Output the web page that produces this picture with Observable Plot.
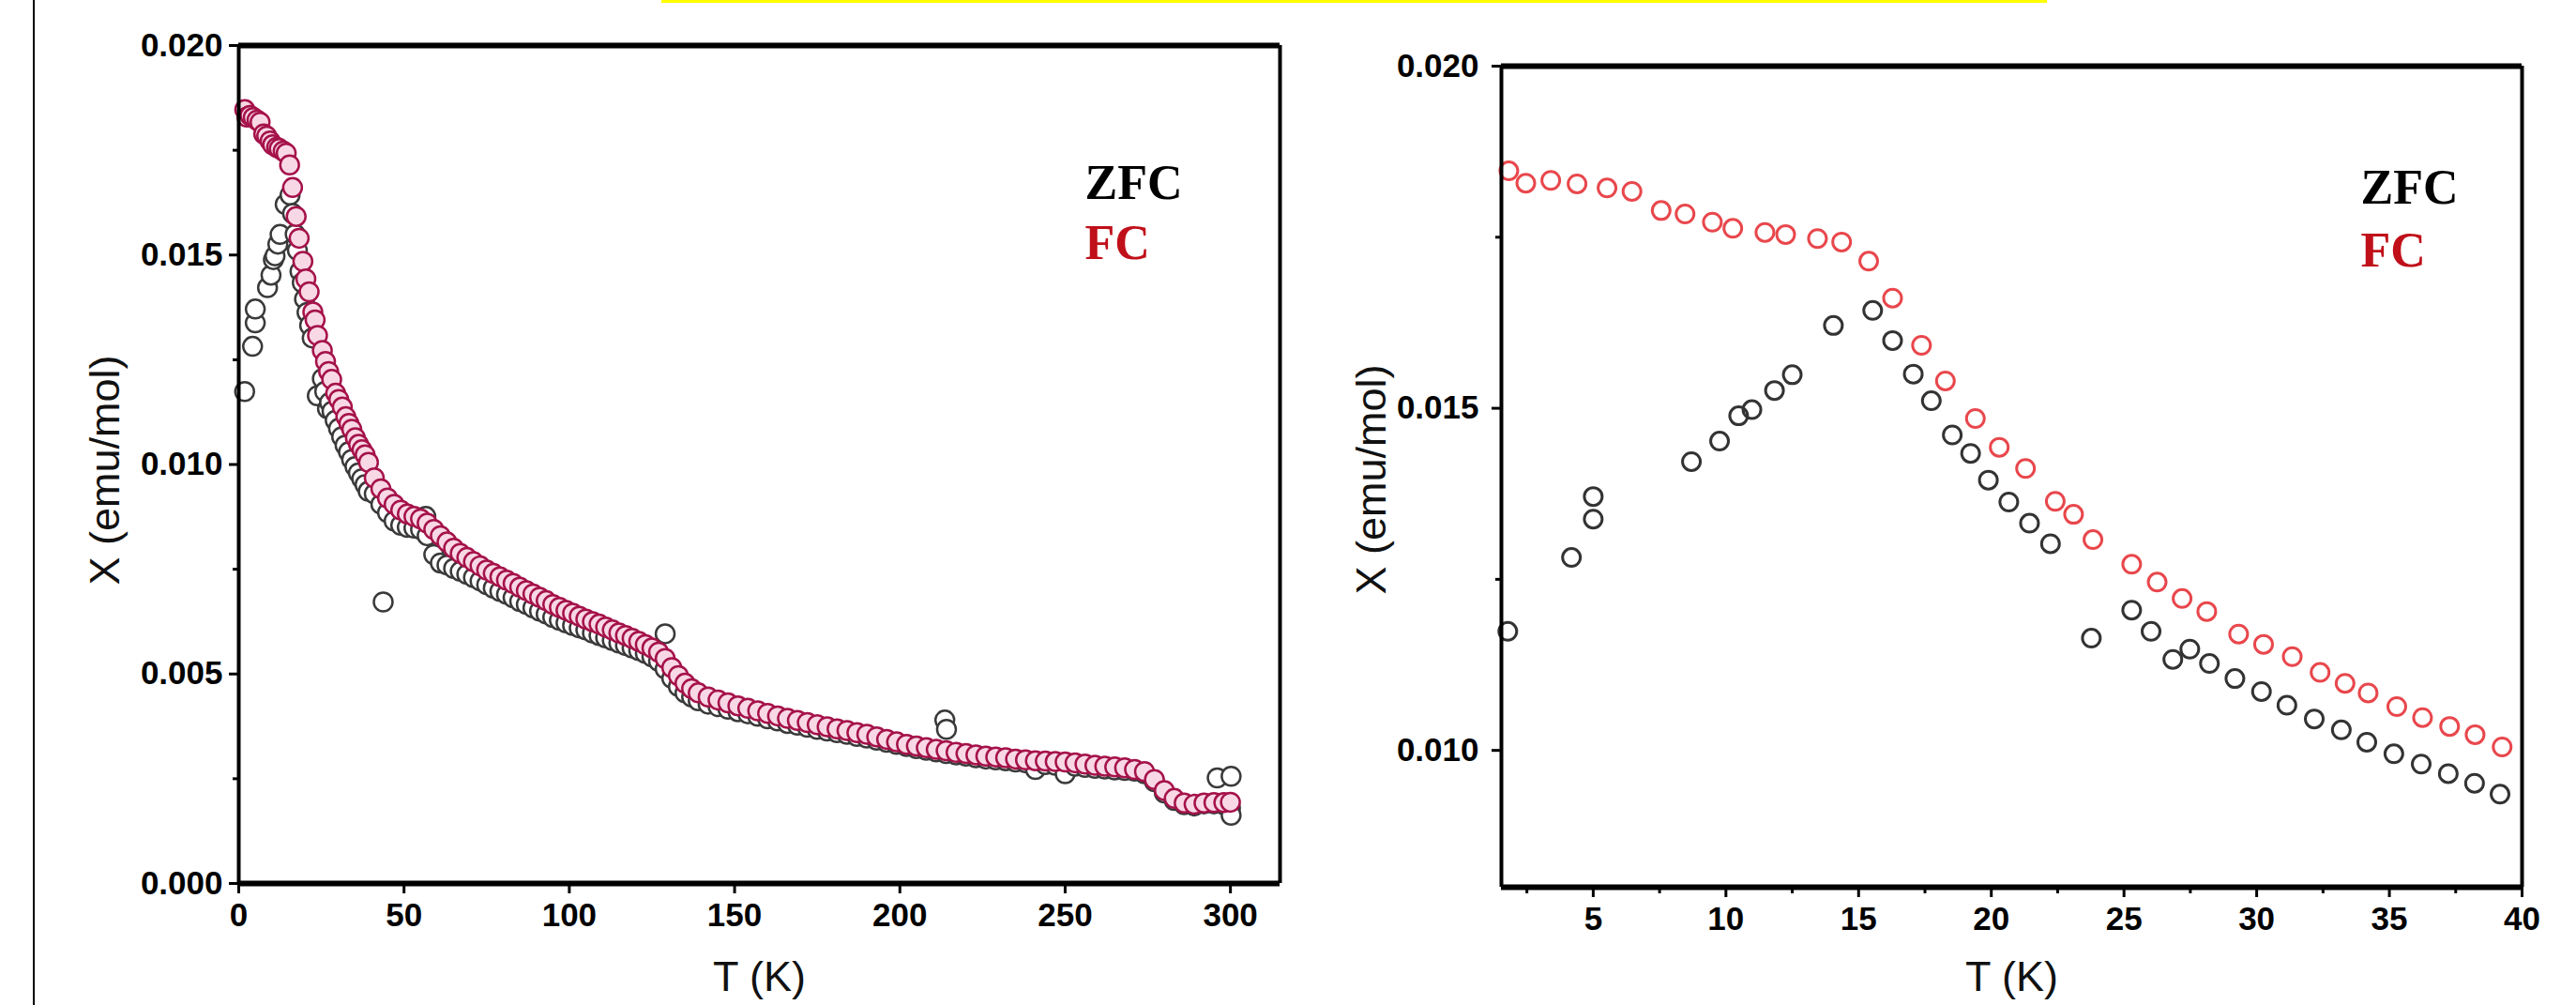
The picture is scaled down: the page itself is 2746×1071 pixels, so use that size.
<!DOCTYPE html>
<html><head><meta charset="utf-8">
<script src="https://cdn.jsdelivr.net/npm/d3@7"></script>
<script src="https://cdn.jsdelivr.net/npm/@observablehq/plot@0.6"></script>
<style>
body{margin:0;background:#fff;}
#page{position:relative;width:2746px;height:1071px;overflow:hidden;background:#fff;}
#left,#right{position:absolute;top:0;}
#left{left:0px} #right{left:1400px}
.bar{position:absolute;left:705px;top:0;width:1477px;height:3px;background:#ffff00}
.vline{position:absolute;left:35px;top:0;width:2px;height:1071px;background:#000}
</style></head><body>
<div id="page"><div class="bar"></div><div class="vline"></div><div id="left"></div><div id="right"></div></div>
<script>
// ---- low-temperature data ----
const fcT = [1.82, 2.46, 3.40, 4.39, 5.52, 6.46, 7.56, 8.46, 9.49, 10.26, 11.47, 12.25, 13.45, 14.36, 15.38, 16.28, 17.37, 18.27, 19.40, 20.30, 21.29, 22.41, 23.10, 23.83, 25.29, 26.25, 27.19, 28.12, 29.32, 30.26, 31.34, 32.39, 33.33, 34.20, 35.28, 36.25, 37.27, 38.23, 39.25];
const fcX = [0.01847, 0.01829, 0.01833, 0.01828, 0.01822, 0.01817, 0.01789, 0.01784, 0.01772, 0.01763, 0.01757, 0.01754, 0.01748, 0.01743, 0.01715, 0.01661, 0.01592, 0.01540, 0.01485, 0.01443, 0.01412, 0.01364, 0.01345, 0.01308, 0.01272, 0.01246, 0.01222, 0.01203, 0.01170, 0.01155, 0.01137, 0.01114, 0.01098, 0.01084, 0.01064, 0.01048, 0.01035, 0.01023, 0.01005];
const zfcT = [1.78, 4.18, 5.00, 5.00, 8.70, 9.76, 10.48, 10.98, 11.83, 12.50, 14.05, 15.53, 16.28, 17.06, 17.74, 18.53, 19.22, 19.89, 20.66, 21.44, 22.23, 23.77, 25.29, 26.02, 26.84, 27.48, 28.22, 29.18, 30.18, 31.14, 32.17, 33.19, 34.15, 35.17, 36.20, 37.22, 38.21, 39.17];
const zfcX = [0.01174, 0.01282, 0.01338, 0.01371, 0.01422, 0.01452, 0.01489, 0.01498, 0.01526, 0.01549, 0.01621, 0.01643, 0.01599, 0.01550, 0.01511, 0.01461, 0.01434, 0.01395, 0.01363, 0.01332, 0.01302, 0.01164, 0.01205, 0.01174, 0.01133, 0.01148, 0.01127, 0.01105, 0.01086, 0.01066, 0.01046, 0.01030, 0.01012, 0.00995, 0.00980, 0.00966, 0.00952, 0.00936];

// ---- high-temperature data ----
const tHigh = [41,43,45,47,49,51,53,55,57,59,61,63,65,67,69,71,73,75,77,79,81,83,85,87,89,91,93,95,97,99,101,103,105,107,109,111,113,115,117,119,121,123,125,127,129,131,133,135,137,139,142,145,148,151,154,157,160,163,166,169,172,175,178,181,184,187,190,193,196,199,202,205,208,211,214,217,220,223,226,229,232,235,238,241,244,247,250,253,256,259,262,265,268,271,274,277,280,283,286,289,292,295,298,300];
const fcHigh = [0.00968,0.00942,0.00920,0.00905,0.00891,0.00882,0.00876,0.00870,0.00860,0.00845,
0.00830,0.00815,0.00800,0.00788,0.00778,0.00768,0.00758,0.00748,0.00740,0.00732,
0.00724,0.00716,0.00707,0.00699,0.00691,0.00683,0.00675,0.00666,0.00659,0.00652,
0.00645,0.00638,0.00631,0.00625,0.00619,0.00612,0.00605,0.00598,0.00592,0.00585,
0.00578,0.00570,0.00562,0.00552,0.00537,0.00515,0.00496,0.00478,0.00465,0.00455,
0.00445,0.00438,0.00431,0.00424,0.00418,0.00412,0.00406,0.00400,0.00394,0.00389,
0.00384,0.00379,0.00374,0.00369,0.00365,0.00360,0.00356,0.00350,0.00344,0.00338,
0.00332,0.00328,0.00324,0.00320,0.00317,0.00313,0.00310,0.00307,0.00304,0.00302,
0.00300,0.00297,0.00295,0.00293,0.00292,0.00291,0.00290,0.00288,0.00285,0.00282,
0.00280,0.00278,0.00276,0.00272,0.00267,0.00248,0.00222,0.00203,0.00192,0.00189,
0.00192,0.00193,0.00193,0.00194];
const zfcHigh = [0.00930,0.00905,0.00885,0.00865,0.00855,0.00850,0.00848,0.00845,0.00830,0.00785,
0.00765,0.00760,0.00752,0.00745,0.00738,0.00730,0.00722,0.00713,0.00705,0.00697,
0.00690,0.00682,0.00673,0.00666,0.00658,0.00650,0.00643,0.00635,0.00628,0.00622,
0.00616,0.00610,0.00605,0.00598,0.00592,0.00586,0.00580,0.00574,0.00568,0.00562,
0.00556,0.00549,0.00541,0.00530,0.00512,0.00490,0.00470,0.00455,0.00445,0.00436,
0.00428,0.00422,0.00416,0.00410,0.00405,0.00399,0.00393,0.00388,0.00382,0.00378,
0.00373,0.00368,0.00364,0.00360,0.00356,0.00351,0.00347,0.00342,0.00337,0.00332,
0.00327,0.00322,0.00318,0.00314,0.00310,0.00307,0.00304,0.00300,0.00297,0.00295,
0.00293,0.00290,0.00288,0.00272,0.00284,0.00282,0.00262,0.00280,0.00277,0.00275,
0.00273,0.00271,0.00270,0.00268,0.00262,0.00243,0.00216,0.00198,0.00188,0.00185,
0.00190,0.00190,0.00188,0.00180];
const zfcOutT = [43.7, 56.6, 129, 213.6, 214.1, 296, 300.2, 300.2];
const zfcOutX = [0.00672, 0.00876, 0.00596, 0.00390, 0.00368, 0.00252, 0.00256, 0.00163];

// ---- ticks & labels ----
const leftXTicks = [0, 50, 100, 150, 200, 250, 300];
const leftYTicks = [0, 0.005, 0.010, 0.015, 0.020];
const leftYMinor = [0.0025, 0.0075, 0.0125, 0.0175];
const rightXTicks = [5, 10, 15, 20, 25, 30, 35, 40];
const rightXMinor = [2.5, 7.5, 12.5, 17.5, 22.5, 27.5, 32.5, 37.5];
const rightYTicks = [0.010, 0.015, 0.020];
const rightYMinor = [0.0125, 0.0175];
const xLabel = "T (K)";
const yLabel = "X (emu/mol)";
const legendLabels = ["ZFC", "FC"];

const pts = (ts, vs) => ts.map((t, i) => ({t, v: vs[i]}));
const lowFC = pts(fcT, fcX), lowZFC = pts(zfcT, zfcX);
const allFC = lowFC.concat(pts(tHigh, fcHigh));
const allZFC = lowZFC.concat(pts(tHigh, zfcHigh), pts(zfcOutT, zfcOutX));

function panel(o) {
  const fmt = d3.format(".3f");
  return Plot.plot({
    width: o.width, height: 1071,
    marginLeft: o.mL, marginRight: o.mR, marginTop: o.mT, marginBottom: o.mB,
    x: {domain: o.xd, axis: null, label: null},
    y: {domain: o.yd, axis: null, label: null},
    style: {fontFamily: "Liberation Sans, Arial, sans-serif", fontSize: "35px", fontWeight: "bold", background: "transparent", overflow: "visible"},
    marks: [
      Plot.dot(o.zfc, {x: "t", y: "v", r: o.r, stroke: o.zfcStroke, strokeWidth: o.sw, fill: o.zfcFill}),
      Plot.dot(o.fc, {x: "t", y: "v", r: o.r, stroke: o.fcStroke, strokeWidth: o.sw, fill: o.fcFill}),
      Plot.axisX(o.xTicks, {anchor: "bottom", tickSize: 11, tickPadding: 10, strokeWidth: 3, tickFormat: d => String(d), fontSize: 35, fontWeight: "bold"}),
      o.xMinor ? Plot.axisX(o.xMinor, {anchor: "bottom", tickSize: 7, strokeWidth: 3, tickFormat: () => ""}) : null,
      Plot.axisY(o.yTicks, {anchor: "left", tickSize: 10, tickPadding: o.yPad, strokeWidth: 3, tickFormat: fmt, fontSize: 35, fontWeight: "bold"}),
      Plot.axisY(o.yMinor, {anchor: "left", tickSize: 6, strokeWidth: 3, tickFormat: () => ""}),
      Plot.ruleY([o.yd[1]], {strokeWidth: 6, stroke: "black"}),
      Plot.ruleY([o.yd[0]], {strokeWidth: 6, stroke: "black"}),
      Plot.ruleX([o.xd[0]], {strokeWidth: 4, stroke: "black"}),
      Plot.ruleX([o.xd[1]], {strokeWidth: 4, stroke: "black"}),
      Plot.text([xLabel], {text: d => d, frameAnchor: "bottom", textAnchor: "middle", dy: o.xLabDy, fontSize: 45, fontWeight: "normal", fill: "#111"}),
      Plot.text([yLabel], {text: d => d, frameAnchor: "left", textAnchor: "middle", dx: o.yLabDx, dy: o.yLabDy, rotate: -90, fontSize: 45, fontWeight: "normal", fill: "#111"}),
      Plot.text([legendLabels[0]], {text: d => d, frameAnchor: "top-right", textAnchor: "start", dx: o.legDx, dy: o.legDy, fontFamily: "Liberation Serif, Times New Roman, serif", fontWeight: "bold", fontSize: 52, fill: "black"}),
      Plot.text([legendLabels[1]], {text: d => d, frameAnchor: "top-right", textAnchor: "start", dx: o.legDx, dy: o.legDy + o.legGap, fontFamily: "Liberation Serif, Times New Roman, serif", fontWeight: "bold", fontSize: 52, fill: "#c0101a"})
    ]
  });
}

document.getElementById("left").appendChild(panel({
  width: 1400, mL: 254, mR: 36, mT: 48, mB: 130,
  xd: [0, 315], yd: [0, 0.020],
  xTicks: leftXTicks, xMinor: null, yTicks: leftYTicks, yMinor: leftYMinor, yPad: 7,
  zfc: allZFC, fc: allFC, r: 10, sw: 2.5,
  zfcStroke: "#3a3a3a", zfcFill: "white", fcStroke: "#a5124a", fcFill: "#f8d8e4",
  xLabDy: 114, yLabDx: -142, yLabDy: 6, legDx: -208, legDy: 127, legGap: 64
}));
document.getElementById("right").appendChild(panel({
  width: 1346, mL: 200, mR: 58, mT: 70, mB: 126,
  xd: [1.54, 40], yd: [0.008, 0.020],
  xTicks: rightXTicks, xMinor: rightXMinor, yTicks: rightYTicks, yMinor: rightYMinor, yPad: 14,
  zfc: lowZFC, fc: lowFC, r: 9.5, sw: 3,
  zfcStroke: "#333333", zfcFill: "none", fcStroke: "#e8474c", fcFill: "none",
  xLabDy: 110, yLabDx: -138, yLabDy: 3, legDx: -172, legDy: 110, legGap: 67
}));
</script>
</body></html>
